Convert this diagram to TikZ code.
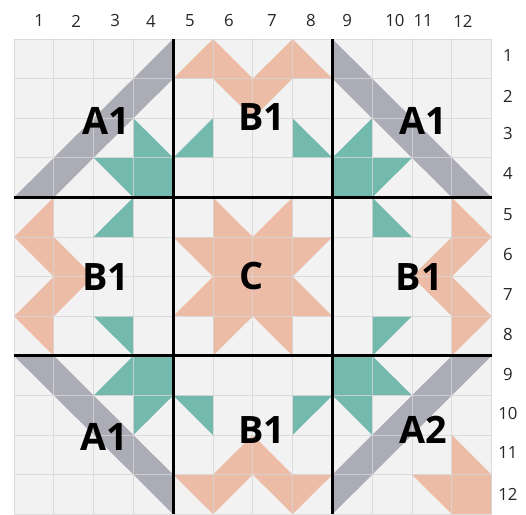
\documentclass[tikz,border=0pt]{standalone}
\usepackage{fontspec}
\setmainfont{Open Sans}
\usetikzlibrary{positioning}
\definecolor{Band}{HTML}{ABACB6}
\definecolor{Teal}{HTML}{74B9AE}
\definecolor{Salmon}{HTML}{EDBCA7}
\definecolor{Paper}{HTML}{F2F2F2}
\definecolor{Seam}{HTML}{D6D6D6}
\tikzset{
  blocklabel/.style={font=\fontsize{27}{30}\selectfont\bfseries,text=black,inner sep=0pt},
  numlabel/.style={font=\fontsize{12}{14}\selectfont,text=black!85,inner sep=0pt},
  seam/.style={Seam,line width=0.6pt,opacity=0.8},
  blockline/.style={black,line width=2pt},
}

\begin{document}
\begin{tikzpicture}[x=1cm,y=-0.995cm]
\useasboundingbox (-0.352,-0.985) rectangle (12.864,12);
\fill[Paper] (0,0) rectangle (12,12);
% grey diagonals of the A blocks
\fill[Band] (0,4) -- (1,4) -- (4,1) -- (4,0) -- cycle;
\fill[Band] (12,4) -- (11,4) -- (8,1) -- (8,0) -- cycle;
\fill[Band] (0,8) -- (1,8) -- (4,11) -- (4,12) -- cycle;
\fill[Band] (12,8) -- (11,8) -- (8,11) -- (8,12) -- cycle;
% teal star points
\fill[Teal] (3,2) -- (4,3) -- (4,4) -- (3,4) -- (2,3) -- (3,3) -- cycle;
\fill[Teal] (9,2) -- (8,3) -- (8,4) -- (9,4) -- (10,3) -- (9,3) -- cycle;
\fill[Teal] (3,10) -- (4,9) -- (4,8) -- (3,8) -- (2,9) -- (3,9) -- cycle;
\fill[Teal] (9,10) -- (8,9) -- (8,8) -- (9,8) -- (10,9) -- (9,9) -- cycle;
\foreach \a/\b/\c in {{4,3}/{5,3}/{5,2},{7,2}/{7,3}/{8,3},{4,9}/{5,9}/{5,10},{7,10}/{7,9}/{8,9},
                      {3,4}/{3,5}/{2,5},{2,7}/{3,7}/{3,8},{9,4}/{9,5}/{10,5},{9,7}/{10,7}/{9,8}}
  \fill[Teal] (\a) -- (\b) -- (\c) -- cycle;
% salmon geese and centre star
\fill[Salmon] (4,1) -- (5,0) -- (6,1) -- (7,0) -- (8,1) -- (7,1) -- (6,2) -- (5,1) -- cycle;
\fill[Salmon] (4,11) -- (5,11) -- (6,10) -- (7,11) -- (8,11) -- (7,12) -- (6,11) -- (5,12) -- cycle;
\fill[Salmon] (0,5) -- (1,4) -- (1,5) -- (2,6) -- (1,7) -- (1,8) -- (0,7) -- (1,6) -- cycle;
\fill[Salmon] (12,5) -- (11,4) -- (11,5) -- (10,6) -- (11,7) -- (11,8) -- (12,7) -- (11,6) -- cycle;
\fill[Salmon] (5,4) -- (6,5) -- (7,4) -- (7,5) -- (8,5) -- (7,6) -- (8,7) -- (7,7) -- (7,8) -- (6,7)
  -- (5,8) -- (5,7) -- (4,7) -- (5,6) -- (4,5) -- (5,5) -- cycle;
\fill[Salmon] (11,10) -- (12,11) -- (12,12) -- (11,12) -- (10,11) -- (11,11) -- cycle;
% seams
\foreach \i in {0,...,12} {
  \draw[seam] (\i,0) -- (\i,12);
  \draw[seam] (0,\i) -- (12,\i);
}
% block borders
\foreach \i in {4,8} {
  \draw[blockline] (\i,0) -- (\i,12);
  \draw[blockline] (0,\i) -- (12,\i);
}
% block names
\node[blocklabel] (tl) at (2.31,2.08) {A1};
\node[blocklabel] (tm) at (6.23,1.97) {B1};
\node[blocklabel] (tr) at (10.28,2.08) {A1};
\node[blocklabel] (ml) at (2.31,6.0) {B1};
\node[blocklabel] (mm) at (5.98,5.98) {C};
\node[blocklabel] (mr) at (10.18,6.0) {B1};
\node[blocklabel] (bl) at (2.26,10.05) {A1};
\node[blocklabel] (bm) at (6.23,9.87) {B1};
\node[blocklabel] (br) at (10.28,9.87) {A2};
% numbering
\foreach \n/\x in {1/0.63,2/1.56,3/2.54,4/3.44,5/4.42,6/5.40,7/6.48,8/7.46,9/8.37,10/9.57,11/10.28,12/11.28}
  \node[numlabel] (col\n) at (\x,-0.455) {\n};
\foreach \n/\y in {1/0.42,2/1.46,3/2.38,4/3.39,5/4.44,6/5.45,7/6.44,8/7.45,9/8.48,10/9.46,11/10.45,12/11.49}
  \node[numlabel] (row\n) at (12.41,\y) {\n};
\end{tikzpicture}
\end{document}
